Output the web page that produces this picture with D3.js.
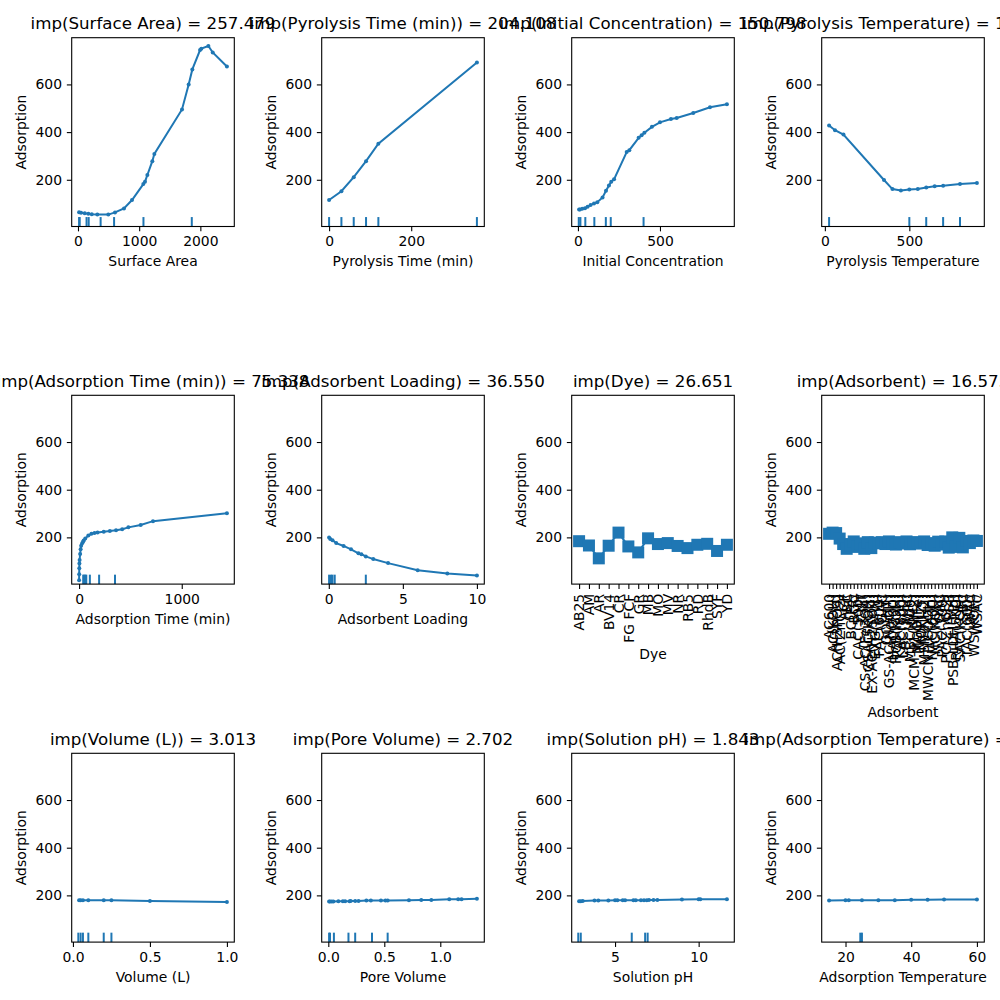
<!DOCTYPE html>
<html>
<head>
<meta charset="utf-8">
<script src="https://cdn.jsdelivr.net/npm/d3@7"></script>
<style>
  body { margin: 0; background: #fff; }
  svg text { font-family: "DejaVu Sans", sans-serif; fill: #000; }
</style>
</head>
<body>
<svg id="chart" width="1000" height="1000"></svg>
<script>
// partial dependence values
const surfaceX = [18, 50, 110, 170, 225, 316, 496, 605, 752, 883, 1068, 1095, 1134, 1215, 1248, 1700, 1809, 1869, 1995, 2016, 2131, 2202, 2434];
const surfaceY = [64, 62, 60, 57, 55, 54, 54, 63, 80, 115, 182, 192, 220, 278, 308, 495, 600, 663, 744, 750, 761, 734, 675];
const surfaceRug = [18, 28, 140, 175, 370, 590, 1070, 1860];
const surfaceTicks = [0, 1000, 2000];

const pyroTimeX = [0, 30, 60, 90, 120, 360];
const pyroTimeY = [115, 152, 211, 278, 351, 692];
const pyroTimeRug = [0, 30, 60, 90, 120, 360];
const pyroTimeTicks = [0, 200];

const initX = [7, 12, 26, 43, 59, 77, 98, 118, 150, 171, 189, 203, 220, 297, 313, 370, 388, 405, 451, 500, 567, 602, 703, 805, 908];
const initY = [75, 75, 78, 81, 87, 94, 101, 106, 126, 154, 176, 192, 202, 316, 324, 376, 387, 397, 422, 441, 455, 459, 480, 504, 517];
const initRug = [5, 15, 45, 100, 170, 200, 400];
const initTicks = [0, 500];

const pyroTempX = [25, 60, 110, 350, 400, 450, 500, 550, 600, 650, 700, 800, 900];
const pyroTempY = [428, 408, 390, 199, 161, 155, 159, 161, 168, 173, 175, 182, 186];
const pyroTempRug = [25, 500, 600, 700, 800];
const pyroTempTicks = [0, 500];

const adsTimeX = [0, 1, 2, 3, 5, 10, 15, 20, 30, 40, 45, 60, 90, 120, 150, 180, 240, 300, 360, 420, 480, 600, 720, 1440];
const adsTimeY = [20, 45, 70, 90, 105, 130, 150, 165, 175, 183, 187, 195, 208, 215, 218, 220, 224, 227, 230, 234, 242, 252, 268, 301];
const adsTimeRug = [40, 50, 60, 70, 105, 195, 350];
const adsTimeTicks = [0, 1000];

const loadingX = [0.02, 0.1, 0.25, 0.5, 1.0, 1.5, 2.0, 2.2, 2.5, 3.0, 4.0, 6.0, 8.0, 10.0];
const loadingY = [199, 193, 188, 176, 164, 150, 133, 129, 120, 109, 92, 62, 48, 40];
const loadingRug = [0.02, 0.15, 0.25, 0.4, 2.5];
const loadingTicks = [0, 5, 10];

const dyeCats = ['AB25', 'AM', 'AR', 'BV14', 'CR', 'FG FCF', 'GR', 'MB', 'MO', 'MV', 'NR', 'RB5', 'RD', 'RhdB', 'SYF', 'YD'];
const dyeY = [184, 166, 112, 165, 220, 162, 137, 196, 172, 176, 164, 155, 169, 173, 143, 169];

const adsorbentCats = ['AC600', 'AC(KOH)', 'AC(H3PO4)', 'AC(ZnCl2)', 'ACF', 'BC', 'BC(Fe)', 'BGC', 'CAC(500)', 'CNT',
  'CS-AC(Fe3O4)', 'CSAC(KOH)', 'EX-AC(H2SO4)', 'EXG(MW)', 'FAC(600)', 'GAC', 'GO(HT)', 'GS-AC(NaOH)', 'HAC(700)', 'HCB(KOH)',
  'KAC(800)', 'LAC(500)', 'MAC', 'MBC(600)', 'MCM-41(NH2)', 'MGO(Fe)', 'MOF(Zr)', 'MSN(NH2)', 'MWCNT(COOH)', 'NAC(600)',
  'NC(KOH)', 'OAC', 'PAC(700)', 'PC(ZnCl2)', 'PSB', 'PSB-LDH(Mg)', 'RHA(500)', 'SAC(KOH)', 'SBC', 'TAC(600)',
  'WAC', 'WS(KOH)', 'WSAC'];
const adsorbentY = [215, 220, 218, 195, 172, 152, 165, 183, 160, 175, 152, 180, 155, 178, 175, 180, 172, 183, 176, 170,
  180, 174, 183, 171, 178, 180, 174, 183, 168, 176, 165, 182, 170, 183, 157, 200, 160, 198, 158, 185,
  176, 187, 185];

const volumeX = [0.04, 0.05, 0.065, 0.1, 0.2, 0.25, 0.5, 1.0];
const volumeY = [180, 180, 180, 180, 180, 180, 176, 172];
const volumeRug = [0.035, 0.05, 0.065, 0.1, 0.2, 0.25];
const volumeTicks = [0, 0.5, 1.0];

const poreX = [0.007, 0.015, 0.03, 0.045, 0.09, 0.13, 0.15, 0.19, 0.2, 0.24, 0.27, 0.34, 0.38, 0.47, 0.51, 0.53, 0.72, 0.83, 0.92, 1.08, 1.16, 1.19, 1.327];
const poreY = [174, 174, 174, 174, 175, 175, 175, 175, 176, 176, 176, 178, 179, 178, 179, 179, 180, 181, 181, 184, 184, 184, 186];
const poreRug = [0.007, 0.015, 0.05, 0.18, 0.24, 0.39, 0.53];
const poreTicks = [0, 0.5, 1.0];

const phX = [2.85, 2.95, 3.07, 3.77, 4.0, 4.6, 5.0, 5.14, 5.46, 5.6, 6.1, 6.24, 6.55, 6.73, 6.9, 7.03, 7.3, 7.53, 9.0, 10.0, 10.1, 11.69];
const phY = [175, 175, 176, 179, 179, 179, 180, 180, 180, 180, 180, 180, 180, 180, 180, 181, 181, 181, 183, 184, 184, 184];
const phRug = [2.8, 2.95, 6.0, 6.8, 6.95];
const phTicks = [5, 10];

const adsTempX = [15, 20, 21, 25, 30, 35, 40, 45, 50, 60];
const adsTempY = [179, 180, 180, 180, 180, 180, 182, 182, 183, 183];
const adsTempRug = [24.5, 25];
const adsTempTicks = [20, 40, 60];

const yTicks = [200, 400, 600];

const panels = [
  { title: 'imp(Surface Area) = 257.479', label: 'Surface Area', x: surfaceX, y: surfaceY, rug: surfaceRug, ticks: surfaceTicks },
  { title: 'imp(Pyrolysis Time (min)) = 204.108', label: 'Pyrolysis Time (min)', x: pyroTimeX, y: pyroTimeY, rug: pyroTimeRug, ticks: pyroTimeTicks },
  { title: 'imp(Initial Concentration) = 150.798', label: 'Initial Concentration', x: initX, y: initY, rug: initRug, ticks: initTicks },
  { title: 'imp(Pyrolysis Temperature) = 102.365', label: 'Pyrolysis Temperature', x: pyroTempX, y: pyroTempY, rug: pyroTempRug, ticks: pyroTempTicks },
  { title: 'imp(Adsorption Time (min)) = 75.338', label: 'Adsorption Time (min)', x: adsTimeX, y: adsTimeY, rug: adsTimeRug, ticks: adsTimeTicks },
  { title: 'imp(Adsorbent Loading) = 36.550', label: 'Adsorbent Loading', x: loadingX, y: loadingY, rug: loadingRug, ticks: loadingTicks },
  { title: 'imp(Dye) = 26.651', label: 'Dye', cats: dyeCats, y: dyeY },
  { title: 'imp(Adsorbent) = 16.575', label: 'Adsorbent', cats: adsorbentCats, y: adsorbentY },
  { title: 'imp(Volume (L)) = 3.013', label: 'Volume (L)', x: volumeX, y: volumeY, rug: volumeRug, ticks: volumeTicks, fmt: '.1f' },
  { title: 'imp(Pore Volume) = 2.702', label: 'Pore Volume', x: poreX, y: poreY, rug: poreRug, ticks: poreTicks, fmt: '.1f' },
  { title: 'imp(Solution pH) = 1.843', label: 'Solution pH', x: phX, y: phY, rug: phRug, ticks: phTicks },
  { title: 'imp(Adsorption Temperature) = 1.215', label: 'Adsorption Temperature', x: adsTempX, y: adsTempY, rug: adsTempRug, ticks: adsTempTicks }
];

const svg = d3.select('svg#chart');
const colLeft = [71.7, 321.7, 571.7, 821.7];
const rowTop = [37.7, 395.3, 753.3];
const W = 162.6, H = 188.8;
const blue = '#1f77b4';
const fs = 13.9;
const tick = 4.86;

const yScale = d3.scaleLinear().domain([4, 796]).range([H, 0]);

panels.forEach((p, i) => {
  const g = svg.append('g')
    .attr('transform', `translate(${colLeft[i % 4]},${rowTop[Math.floor(i / 4)]})`);
  const isCat = !!p.cats;
  const xs = isCat ? p.cats.map((c, j) => j) : p.x;
  const [lo, hi] = d3.extent(xs);
  const pad = (hi - lo) * 0.05;
  const x = d3.scaleLinear().domain([lo - pad, hi + pad]).range([0, W]);

  // y axis
  const ya = g.append('g').call(d3.axisLeft(yScale).tickValues(yTicks).tickSize(tick).tickPadding(tick));
  // x axis
  const xAxis = d3.axisBottom(x).tickSize(tick).tickPadding(tick);
  if (isCat) xAxis.tickValues(xs).tickFormat(j => p.cats[j]);
  else xAxis.tickValues(p.ticks).tickFormat(d3.format(p.fmt || 'd'));
  const xa = g.append('g').attr('transform', `translate(0,${H})`).call(xAxis);

  [ya, xa].forEach(a => {
    a.select('.domain').remove();
    a.attr('font-family', null).attr('font-size', null);
    a.selectAll('line').attr('stroke', '#000').attr('stroke-width', 1.1);
    a.selectAll('text').style('font-size', fs + 'px').attr('fill', '#000');
  });

  let labelY = H + 40;
  if (isCat) {
    const texts = xa.selectAll('text')
      .attr('transform', 'rotate(-90)')
      .attr('text-anchor', 'end')
      .attr('x', -(tick * 2))
      .attr('y', 0)
      .attr('dy', '0.35em');
    const maxLen = d3.max(texts.nodes(), n => n.getComputedTextLength());
    labelY = H + tick * 2 + maxLen + 16.3;
  }

  // marks
  const line = d3.line().x((d, j) => x(xs[j])).y(d => yScale(d));
  g.append('path')
    .attr('d', line(p.y))
    .attr('fill', 'none')
    .attr('stroke', blue)
    .attr('stroke-width', 2);

  if (isCat) {
    g.selectAll('rect.sq').data(p.y).enter().append('rect')
      .attr('class', 'sq')
      .attr('x', (d, j) => x(xs[j]) - 6)
      .attr('y', d => yScale(d) - 6)
      .attr('width', 12)
      .attr('height', 12)
      .attr('fill', blue);
  } else {
    g.selectAll('circle.pt').data(p.y).enter().append('circle')
      .attr('class', 'pt')
      .attr('cx', (d, j) => x(xs[j]))
      .attr('cy', d => yScale(d))
      .attr('r', 2)
      .attr('fill', blue);

    g.selectAll('line.rug').data(p.rug).enter().append('line')
      .attr('class', 'rug')
      .attr('x1', d => x(d)).attr('x2', d => x(d))
      .attr('y1', H).attr('y2', H - H * 0.05)
      .attr('stroke', blue)
      .attr('stroke-width', 2);
  }

  // frame
  g.append('rect')
    .attr('width', W).attr('height', H)
    .attr('fill', 'none')
    .attr('stroke', '#000')
    .attr('stroke-width', 1.1);

  // labels
  g.append('text')
    .attr('x', W / 2).attr('y', labelY)
    .attr('text-anchor', 'middle')
    .style('font-size', fs + 'px')
    .text(p.label);

  g.append('text')
    .attr('transform', `translate(-45.5,${H / 2}) rotate(-90)`)
    .attr('text-anchor', 'middle')
    .style('font-size', fs + 'px')
    .text('Adsorption');

  g.append('text')
    .attr('x', W / 2).attr('y', -8.3)
    .attr('text-anchor', 'middle')
    .style('font-size', '16.67px')
    .text(p.title);
});
</script>
</body>
</html>
